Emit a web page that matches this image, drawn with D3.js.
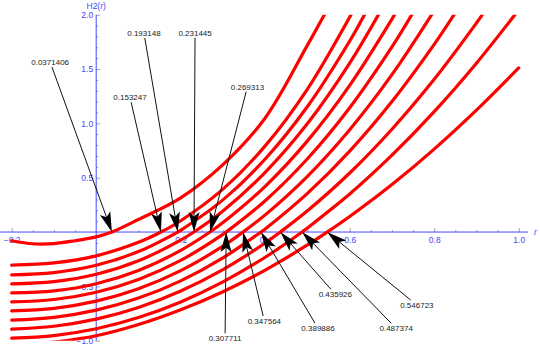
<!DOCTYPE html>
<html>
<head>
<meta charset="utf-8">
<style>
    body {
        margin: 0;
        background: white;
        font-family: "Liberation Sans", Arial, sans-serif;
    }
    svg {
        display: block;
    }
</style>
<script src="https://cdn.jsdelivr.net/npm/d3@7/dist/d3.min.js"></script>
</head>
<body>
<svg id="chart" width="540" height="348"></svg>
<script>
// H2(r) sample values
let xGrid = [-0.2, -0.1, 0, 0.1, 0.2, 0.3, 0.4, 0.5, 0.6, 0.7, 0.8, 0.9, 1.0]

// first curve has a small dip on the left, so it gets its own x samples
let h1X = [-0.2, -0.15, -0.1, -0.05, 0, 0.1, 0.2, 0.3, 0.4, 0.5]
let h1Y = [-0.08, -0.108, -0.106, -0.08, -0.045, 0.115, 0.315, 0.62, 1.05, 1.72]

let h2 = [-0.305, -0.284, -0.219, -0.095, 0.104, 0.395, 0.793, 1.316, 1.978]
let h3 = [-0.394, -0.373, -0.306, -0.180, 0.016, 0.296, 0.672, 1.155, 1.758]
let h4 = [-0.477, -0.456, -0.389, -0.265, -0.074, 0.193, 0.549, 0.998, 1.555]
let h5 = [-0.560, -0.542, -0.476, -0.354, -0.169, 0.087, 0.421, 0.839, 1.350, 1.960]
let h6 = [-0.643, -0.621, -0.554, -0.436, -0.261, -0.022, 0.288, 0.674, 1.144, 1.704]
let h7 = [-0.726, -0.702, -0.636, -0.522, -0.355, -0.130, 0.158, 0.513, 0.942, 1.448]
let h8 = [-0.810, -0.785, -0.719, -0.608, -0.449, -0.238, 0.029, 0.356, 0.745, 1.201, 1.727]
let h9 = [-0.893, -0.867, -0.802, -0.695, -0.543, -0.346, -0.101, 0.195, 0.543, 0.946, 1.405, 1.923]
let h10 = [-0.976, -0.953, -0.890, -0.787, -0.644, -0.459, -0.232, 0.038, 0.350, 0.707, 1.108, 1.554]
let h11 = [-1.05, -1.012, -0.954, -0.851, -0.715, -0.549, -0.350, -0.119, 0.143, 0.437, 0.763, 1.121, 1.510]

// zeros of each curve (the callout numbers)
let roots = [0.0371406, 0.153247, 0.193148, 0.231445, 0.269313, 0.307711,
             0.347564, 0.389886, 0.435926, 0.487374, 0.546723]
// where each curve leaves the top of the plot (H2 = 2), last one ends at r = 1
let exitR = [0.54, 0.603, 0.635, 0.668, 0.706, 0.747, 0.794, 0.847, 0.914, 0.991, null]

// callout text centres, in plot units
let calloutR = [-0.109, 0.080, 0.113, 0.234, 0.358, 0.305, 0.398, 0.525, 0.566, 0.710, 0.759]
let calloutH = [1.564, 1.240, 1.831, 1.833, 1.338, -0.978, -0.819, -0.886, -0.573, -0.886, -0.672]

let xMajor = [-0.2, 0.2, 0.4, 0.6, 0.8, 1.0]
let yMajor = [-1.0, -0.5, 0.5, 1.0, 1.5, 2.0]

let width = 540
let height = 348
let svg = d3.select("#chart")

let x = d3.scaleLinear().domain([-0.2, 1.0]).range([11.7, 518.7])
let y = d3.scaleLinear().domain([-1, 2]).range([340.7, 14.7])

let blue = "#4646ff"
let tickGrey = "#a0a0a0"

svg.append("defs").append("clipPath").attr("id", "plotClip")
    .append("rect")
    .attr("x", 0).attr("width", width)
    .attr("y", y(2)).attr("height", y(-1) - y(2))

// ---- axes
let fmt = d3.format(".1f")

let xMinor = d3.range(-0.2, 1.0001, 0.05).filter(v => !xMajor.some(m => Math.abs(m - v) < 1e-6) && Math.abs(v) > 1e-6)
let yMinor = d3.range(-1.0, 2.0001, 0.1).filter(v => !yMajor.some(m => Math.abs(m - v) < 1e-6) && Math.abs(v) > 1e-6)

let gx = svg.append("g").attr("transform", `translate(0,${y(0)})`)
gx.call(d3.axisBottom(x).tickValues(xMinor).tickSize(-2).tickFormat(""))
gx.call(g => g.select(".domain").remove())
let gx2 = svg.append("g").attr("transform", `translate(0,${y(0)})`)
gx2.call(d3.axisBottom(x).tickValues(xMajor).tickSize(-4).tickPadding(5).tickFormat(fmt))
gx2.call(g => g.select(".domain").remove())

let gy = svg.append("g").attr("transform", `translate(${x(0)},0)`)
gy.call(d3.axisLeft(y).tickValues(yMinor).tickSize(-2).tickFormat(""))
gy.call(g => g.select(".domain").remove())
let gy2 = svg.append("g").attr("transform", `translate(${x(0)},0)`)
gy2.call(d3.axisLeft(y).tickValues(yMajor).tickSize(-4).tickPadding(3).tickFormat(fmt))
gy2.call(g => g.select(".domain").remove())

svg.selectAll(".tick line").attr("stroke", tickGrey)
svg.selectAll(".tick text")
    .attr("fill", blue)
    .attr("font-size", 8.5)
    .attr("font-family", "Liberation Sans, Arial, sans-serif")

svg.append("line")
    .attr("x1", x(-0.228)).attr("x2", x(1.022))
    .attr("y1", y(0)).attr("y2", y(0))
    .attr("stroke", blue)
svg.append("line")
    .attr("x1", x(0)).attr("x2", x(0))
    .attr("y1", y(-1)).attr("y2", y(2))
    .attr("stroke", blue)

let yTitle = svg.append("text")
    .attr("x", x(0)).attr("y", 8.5)
    .attr("text-anchor", "middle")
    .attr("font-size", 8.5)
    .attr("fill", blue)
yTitle.append("tspan").text("H2(")
yTitle.append("tspan").attr("font-style", "italic").text("r")
yTitle.append("tspan").text(")")

svg.append("text")
    .attr("x", x(1.022) + 6).attr("y", y(0) + 3)
    .attr("font-size", 8.5)
    .attr("font-style", "italic")
    .attr("fill", blue)
    .text("r")

// ---- curves
let series = [h2, h3, h4, h5, h6, h7, h8, h9, h10, h11]
let curves = [{xs: h1X, ys: h1Y}].concat(series.map(s => ({xs: xGrid.slice(0, s.length), ys: s})))

function curvePoints(c, i) {
    let exit = exitR[i]
    let pts = c.xs.map((v, k) => [v, c.ys[k]])
        .filter(p => exit == null || p[0] < exit)
    pts.push([roots[i], 0])
    if (exit != null) pts.push([exit, 2])
    return pts.sort((a, b) => a[0] - b[0])
}

let line = d3.line()
    .x(d => x(d[0]))
    .y(d => y(d[1]))
    .curve(d3.curveCatmullRom.alpha(0.5))

svg.append("g")
    .attr("clip-path", "url(#plotClip)")
    .selectAll("path")
    .data(curves)
    .enter().append("path")
    .attr("d", (c, i) => line(curvePoints(c, i)))
    .attr("fill", "none")
    .attr("stroke", "#ff0000")
    .attr("stroke-width", 3.2)
    .attr("stroke-linecap", "round")

// ---- callouts with arrows
let headLen = 20
let headHalf = 5.5
let callouts = svg.append("g")

roots.forEach((r, i) => {
    let cx = x(calloutR[i])
    let cy = y(calloutH[i])
    let tx = x(r)
    let ty = y(0)
    let dx = tx - cx
    let dy = ty - cy
    let len = Math.sqrt(dx * dx + dy * dy)
    let ux = dx / len
    let uy = dy / len
    let trim = 5 / Math.abs(uy)
    let sx = cx + ux * trim
    let sy = cy + uy * trim

    callouts.append("line")
        .attr("x1", sx).attr("y1", sy)
        .attr("x2", tx - ux * headLen * 0.7).attr("y2", ty - uy * headLen * 0.7)
        .attr("stroke", "#111")
        .attr("stroke-width", 1)

    let bx = tx - ux * headLen
    let by = ty - uy * headLen
    let nx = -uy
    let ny = ux
    let head = [
        [tx, ty],
        [bx + nx * headHalf, by + ny * headHalf],
        [tx - ux * headLen * 0.78, ty - uy * headLen * 0.78],
        [bx - nx * headHalf, by - ny * headHalf]
    ]
    callouts.append("path")
        .attr("d", "M" + head.map(p => p.join(",")).join("L") + "Z")
        .attr("fill", "#000")

    callouts.append("text")
        .attr("x", cx).attr("y", cy + 2.9)
        .attr("text-anchor", "middle")
        .attr("font-size", 8)
        .attr("fill", "#222")
        .text(String(r))
})
</script>
</body>
</html>
